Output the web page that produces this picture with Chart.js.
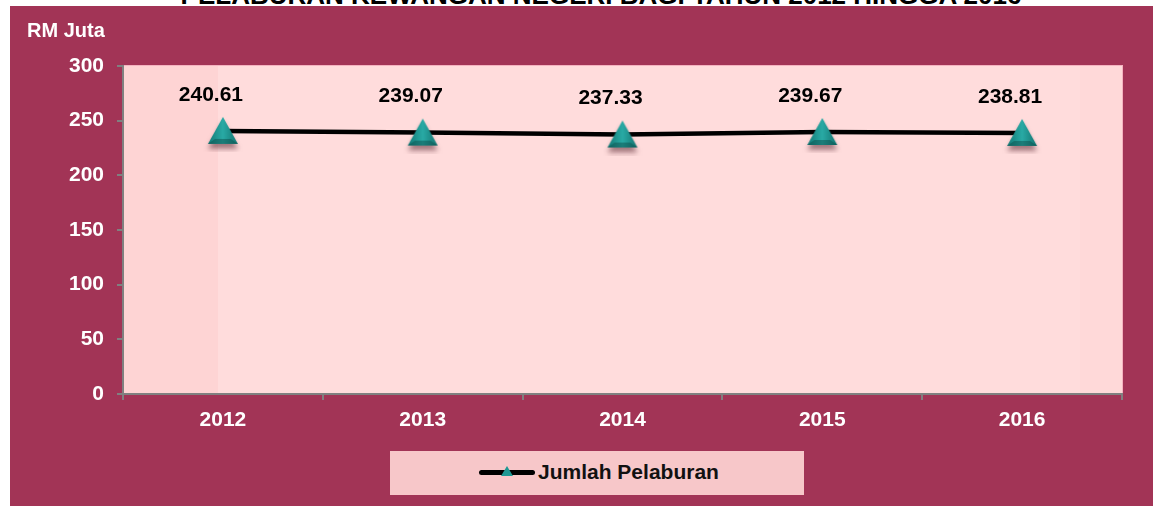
<!DOCTYPE html>
<html>
<head>
<meta charset="utf-8">
<script src="https://cdn.jsdelivr.net/npm/chart.js@4.4.0/dist/chart.umd.min.js"></script>
<style>
    body { margin: 0; background: #ffffff; width: 1153px; height: 506px; overflow: hidden; position: relative; font-family: "Liberation Sans", Arial, sans-serif; }
    #title { position: absolute; left: 0; top: -18px; width: 1202px; text-align: center; font: bold 26px "Liberation Sans", Arial, sans-serif; line-height: 26px; color: #000; white-space: nowrap; z-index: 0; }
    #wrap { position: absolute; left: 10px; top: 6px; width: 1143px; height: 500px; background: #a23456; z-index: 1; }
    #unit { position: absolute; left: 17px; top: 13px; color: #fff; font: bold 20px "Liberation Sans", Arial, sans-serif; }
    #legend { position: absolute; left: 380px; top: 445px; width: 414px; height: 44px; background: #f7c7c9; }
    #legend .sample { position: absolute; left: 89px; top: 19px; width: 56px; height: 5px; background: #000; border-radius: 3px; }
    #legend .tri { position: absolute; left: 111px; top: 15px; width: 0; height: 0; border-left: 6px solid transparent; border-right: 6px solid transparent; border-bottom: 10px solid #1e9893; }
    #legend .text { position: absolute; left: 148px; top: 9px; font: bold 21px "Liberation Sans", Arial, sans-serif; color: #111; }
</style>
</head>
<body>
<div id="title">PELABURAN KEWANGAN NEGERI BAGI TAHUN 2012 HINGGA 2016</div>
<div id="wrap">
    <canvas id="chart" width="1143" height="500"></canvas>
    <div id="unit">RM Juta</div>
    <div id="legend"><div class="sample"></div><div class="tri"></div><div class="text"></div></div>
</div>
<script>
var years = ['2012', '2013', '2014', '2015', '2016'];
var pelaburan = [240.61, 239.07, 237.33, 239.67, 238.81];
var yTicks = [0, 50, 100, 150, 200, 250, 300];
var seriesLabel = 'Jumlah Pelaburan';

// teal triangle marker with a soft shadow, drawn once on a small canvas
function makeMarker() {
    var c = document.createElement('canvas');
    c.width = 40; c.height = 42;
    var ctx = c.getContext('2d');
    ctx.shadowColor = 'rgba(90,40,50,0.55)';
    ctx.shadowBlur = 5;
    ctx.shadowOffsetY = 5;
    var g = ctx.createLinearGradient(5, 0, 35, 0);
    g.addColorStop(0, '#137a76');
    g.addColorStop(0.5, '#29aaa5');
    g.addColorStop(1, '#137470');
    ctx.fillStyle = g;
    ctx.beginPath();
    ctx.moveTo(20, 7);
    ctx.lineTo(35, 34);
    ctx.lineTo(5, 34);
    ctx.closePath();
    ctx.fill();
    ctx.shadowColor = 'transparent';
    ctx.fillStyle = 'rgba(10,70,68,0.45)';
    ctx.beginPath();
    ctx.moveTo(12, 29);
    ctx.lineTo(28, 29);
    ctx.lineTo(35, 34);
    ctx.lineTo(5, 34);
    ctx.closePath();
    ctx.fill();
    return c;
}

var plotBackground = {
    id: 'plotBackground',
    beforeDraw: function (chart) {
        var a = chart.chartArea, ctx = chart.ctx;
        ctx.save();
        ctx.fillStyle = '#ffdcdc';
        ctx.fillRect(a.left, a.top, a.right - a.left, a.bottom - a.top);
        ctx.fillStyle = '#fed4d4';
        ctx.fillRect(a.left, a.top, 95, a.bottom - a.top);
        ctx.fillStyle = '#ffd9d9';
        ctx.fillRect(a.right - 42, a.top, 42, a.bottom - a.top);
        ctx.fillStyle = '#f4b3c0';
        ctx.fillRect(a.left, a.top - 1, a.right - a.left, 1);
        ctx.fillRect(a.right, a.top - 1, 1, a.bottom - a.top + 1);
        ctx.restore();
    }
};

var valueLabels = {
    id: 'valueLabels',
    afterDatasetsDraw: function (chart) {
        var ctx = chart.ctx;
        var meta = chart.getDatasetMeta(0);
        ctx.save();
        ctx.font = 'bold 21px "Liberation Sans", Arial, sans-serif';
        ctx.fillStyle = '#000';
        ctx.textAlign = 'center';
        ctx.textBaseline = 'middle';
        meta.data.forEach(function (pt, i) {
            ctx.fillText(pelaburan[i].toFixed(2), pt.x - 12, pt.y - 36);
        });
        ctx.restore();
    }
};

document.querySelector('#legend .text').textContent = seriesLabel;

new Chart(document.getElementById('chart'), {
    type: 'line',
    data: {
        labels: years,
        datasets: [{
            label: seriesLabel,
            data: pelaburan,
            borderColor: '#000000',
            borderWidth: 4.5,
            tension: 0,
            pointStyle: makeMarker(),
            pointRadius: 18,
            pointHoverRadius: 18
        }]
    },
    options: {
        responsive: false,
        animation: false,
        layout: { padding: { top: 60, right: 31, left: 0, bottom: 0 } },
        plugins: { legend: { display: false }, tooltip: { enabled: false } },
        scales: {
            x: {
                offset: true,
                afterFit: function (s) { s.height = 112; },
                border: { color: '#808080', width: 2 },
                grid: { offset: true, drawOnChartArea: false, color: '#808080', lineWidth: 2, tickLength: 6 },
                ticks: { color: '#ffffff', padding: 8, font: { family: '"Liberation Sans", Arial, sans-serif', size: 21, weight: 'bold' } }
            },
            y: {
                min: 0,
                max: 300,
                afterFit: function (s) { s.width = 113; },
                afterBuildTicks: function (s) { s.ticks = yTicks.map(function (v) { return { value: v }; }); },
                border: { color: '#808080', width: 2 },
                grid: { drawOnChartArea: false, color: '#808080', lineWidth: 2, tickLength: 6 },
                ticks: { color: '#ffffff', padding: 13, font: { family: '"Liberation Sans", Arial, sans-serif', size: 21, weight: 'bold' } }
            }
        }
    },
    plugins: [plotBackground, valueLabels]
});
</script>
</body>
</html>
